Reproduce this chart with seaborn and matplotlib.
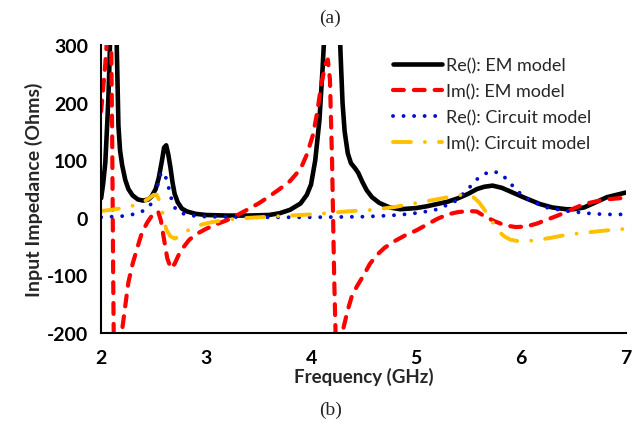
import matplotlib
matplotlib.use("Agg")
import matplotlib.pyplot as plt
import seaborn as sns
import pandas as pd

# Re(Z) from the EM model
re_em_f = [2.00, 2.02, 2.04, 2.06, 2.07, 2.08, 2.09, 2.10, 2.115, 2.13, 2.14, 2.15, 2.165, 2.18,
           2.20, 2.23, 2.26, 2.30, 2.35, 2.40, 2.45, 2.48, 2.52, 2.55, 2.58, 2.60, 2.62, 2.64,
           2.66, 2.68, 2.70, 2.73, 2.77, 2.82, 2.90, 3.00, 3.20, 3.40, 3.60, 3.70, 3.80, 3.90,
           3.96, 4.00, 4.04, 4.08, 4.11, 4.13, 4.16, 4.20, 4.23, 4.26, 4.28, 4.30, 4.32, 4.35,
           4.38, 4.42, 4.45, 4.49, 4.53, 4.58, 4.65, 4.75, 4.85, 5.00, 5.10, 5.20, 5.30, 5.40,
           5.50, 5.58, 5.65, 5.73, 5.82, 5.92, 6.02, 6.18, 6.30, 6.43, 6.50, 6.60, 6.70, 6.82, 7.00]
re_em_v = [34, 60, 96, 170, 212, 270, 340, 480, 700, 520, 390, 290, 160, 118,
           92, 66, 50, 39, 32, 30, 32, 37, 50, 70, 100, 122, 126, 110,
           88, 62, 42, 27, 16, 11, 7, 5, 4, 4, 5, 8, 14, 25,
           40, 58, 100, 170, 260, 330, 500, 900, 700, 420, 290, 200, 150, 112,
           95, 86, 78, 62, 48, 36, 26, 18, 15, 17, 20, 24, 28, 34,
           42, 50, 54, 56, 52, 44, 36, 24, 18, 15, 15, 18, 26, 36, 44]

# Im(Z) from the EM model
im_em_f = [2.00, 2.02, 2.04, 2.06, 2.08, 2.095, 2.105, 2.115, 2.125, 2.14, 2.16, 2.18, 2.20,
           2.23, 2.26, 2.30, 2.34, 2.39, 2.44, 2.48, 2.52, 2.545, 2.57, 2.60, 2.63, 2.665,
           2.70, 2.74, 2.78, 2.84, 2.90, 3.00, 3.10, 3.20, 3.30, 3.40, 3.50, 3.60, 3.70,
           3.80, 3.90, 3.96, 4.02, 4.06, 4.10, 4.14, 4.16, 4.18, 4.20, 4.22, 4.24, 4.26,
           4.28, 4.31, 4.35, 4.39, 4.44, 4.50, 4.56, 4.63, 4.70, 4.80, 4.90, 5.00, 5.10,
           5.20, 5.30, 5.40, 5.50, 5.58, 5.65, 5.75, 5.85, 5.95, 6.05, 6.15, 6.25, 6.35,
           6.45, 6.55, 6.65, 6.80, 7.00]
im_em_v = [185, 225, 268, 320, 380, 330, 150, -100, -300, -400, -330, -250, -195,
           -153, -112, -80, -55, -25, -8, 3, 11, 10, -5, -38, -70, -88,
           -80, -64, -52, -38, -29, -19, -11, -4, 5, 15, 25, 37, 50,
           64, 85, 110, 145, 185, 235, 268, 275, 240, 100, -100, -250, -260,
           -215, -190, -160, -135, -118, -100, -80, -64, -52, -40, -30, -22, -12,
           -2, 6, 10, 12, 11, 3, -6, -13, -16, -15, -10, -3, 4,
           12, 20, 26, 32, 35]

# Re(Z) from the circuit model
re_ckt_f = [2.00, 2.10, 2.20, 2.30, 2.38, 2.44, 2.48, 2.51, 2.54, 2.565, 2.585, 2.61, 2.64,
            2.67, 2.70, 2.75, 2.85, 3.00, 3.50, 4.00, 4.50, 4.75, 4.95, 5.17, 5.36, 5.48,
            5.58, 5.66, 5.74, 5.82, 5.90, 5.96, 6.09, 6.24, 6.43, 6.63, 6.80, 7.00]
re_ckt_v = [1, 2, 3, 6, 10, 17, 25, 38, 58, 75, 80, 74, 55,
            33, 18, 9, 4, 2, 1, 1, 2, 4, 7, 13, 27, 47,
            67, 77, 81, 75, 60, 47, 30, 18, 12, 8, 6, 6]

# Im(Z) from the circuit model
im_ckt_f = [2.00, 2.10, 2.20, 2.30, 2.38, 2.45, 2.50, 2.53, 2.56, 2.59, 2.62, 2.66, 2.70,
            2.74, 2.80, 2.86, 2.95, 3.04, 3.20, 3.40, 3.60, 3.80, 4.00, 4.20, 4.40, 4.60,
            4.80, 4.95, 5.10, 5.25, 5.40, 5.48, 5.54, 5.60, 5.66, 5.72, 5.78, 5.84, 5.90,
            5.96, 6.05, 6.15, 6.30, 6.45, 6.60, 6.80, 7.00]
im_ckt_v = [12, 14, 17, 21, 26, 33, 40, 40, 28, 5, -20, -32, -36,
            -33, -25, -18, -12, -8, -3, 0, 2, 4, 6, 9, 12, 14,
            19, 24, 29, 34, 39, 41, 37, 27, 12, -5, -22, -32, -38,
            -40, -40, -39, -34, -29, -26, -22, -19]

labels = ["Re(): EM model", "Im(): EM model", "Re(): Circuit model", "Im(): Circuit model"]
x_ticks = [2, 3, 4, 5, 6, 7]
y_ticks = [-200, -100, 0, 100, 200, 300]

sns.set_style("white")
plt.rcParams["font.family"] = ["Lato", "DejaVu Sans"]

fig = plt.figure(figsize=(6.44, 4.31), dpi=100)
ax = fig.add_axes([0.157, 0.225, 0.815, 0.668])

series = [
    (re_em_f, re_em_v, labels[0], dict(color="black", lw=3.3, linestyle="-")),
    (im_em_f, im_em_v, labels[1], dict(color="#FF0000", lw=3.0, linestyle=(0, (2.6, 2.4)),
                                        dash_capstyle="round")),
    (re_ckt_f, re_ckt_v, labels[2], dict(color="#0010C8", lw=2.8, linestyle=(0, (0.01, 2.7)),
                                          dash_capstyle="round")),
    (im_ckt_f, im_ckt_v, labels[3], dict(color="#FFC000", lw=2.8,
                                          linestyle=(0, (4.6, 3.6, 0.01, 3.6)),
                                          dash_capstyle="round")),
]
for f, v, lab, style in series:
    df = pd.DataFrame({"Frequency": f, "Impedance": v})
    sns.lineplot(data=df, x="Frequency", y="Impedance", ax=ax, label=lab,
                 sort=False, estimator=None, **style)

ax.set_xlim(2, 7)
ax.set_ylim(-200, 300)
ax.set_xticks(x_ticks)
ax.set_yticks(y_ticks)
ax.set_xticklabels([str(t) for t in x_ticks], fontweight="bold", fontsize=14)
ax.set_yticklabels([str(t) for t in y_ticks], fontweight="bold", fontsize=14)
ax.tick_params(axis="both", direction="out", length=4.3, width=1.5, color="black",
               labelcolor="black")
ax.tick_params(axis="x", pad=7)
ax.tick_params(axis="y", pad=5)
for side in ["top", "right"]:
    ax.spines[side].set_visible(False)
for side in ["left", "bottom"]:
    ax.spines[side].set_color("black")
    ax.spines[side].set_linewidth(1.5)

ax.set_xlabel("Frequency (GHz)", fontweight="bold", fontsize=13.5, labelpad=1)
ax.set_ylabel("Input Impedance (Ohms)", fontweight="bold", fontsize=14, labelpad=3)

ax.legend(loc="upper left", bbox_to_anchor=(393 / 644, 1 - 58 / 431),
          bbox_transform=fig.transFigure, frameon=False, fontsize=13,
          handlelength=2.7, handletextpad=0.25, labelspacing=0.55,
          borderpad=0, borderaxespad=0)

fig.text(0.513, 1 - 18 / 431, "(a)", ha="center", va="center",
         family=["Liberation Serif"], fontsize=14)
fig.text(0.513, 1 - 410 / 431, "(b)", ha="center", va="center",
         family=["Liberation Serif"], fontsize=14)

fig.savefig("out.png", dpi=100)
